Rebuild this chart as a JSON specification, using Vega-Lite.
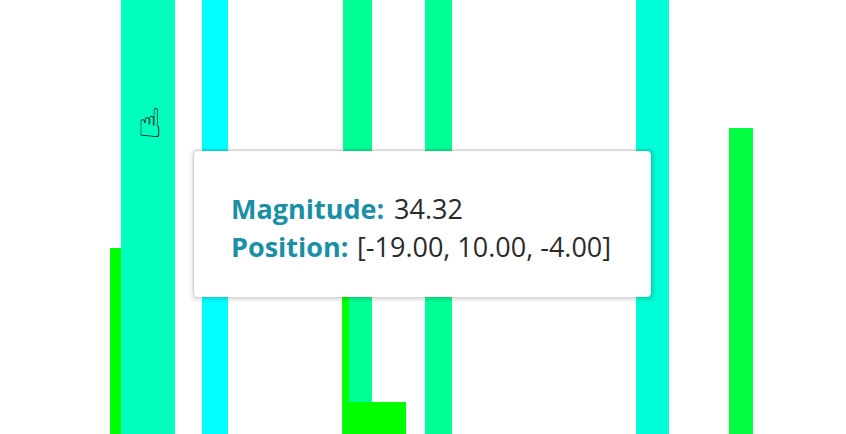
{
  "$schema": "https://vega.github.io/schema/vega-lite/v6.json",
  "width": 846, "height": 434,
  "autosize": {"type": "fit", "contains": "padding"},
  "padding": 0,
  "background": "white",
  "view": {"stroke": null},
  "layer": [
    {
      "data": {"values": [
        {"bar": "b2", "left": 110, "right": 127, "top": 248, "bottom": 434, "mag": 0},
        {"bar": "b1", "left": 121, "right": 175, "top": 0, "bottom": 434, "mag": 30},
        {"bar": "b3", "left": 202, "right": 228, "top": 0, "bottom": 434, "mag": 40},
        {"bar": "b4", "left": 343, "right": 372, "top": 0, "bottom": 434, "mag": 23.5},
        {"bar": "b4g", "left": 342, "right": 349, "top": 290, "bottom": 434, "mag": 1},
        {"bar": "b5", "left": 349, "right": 406, "top": 402, "bottom": 434, "mag": 0},
        {"bar": "b6", "left": 425, "right": 452, "top": 0, "bottom": 434, "mag": 23.5},
        {"bar": "b7", "left": 636, "right": 669, "top": 0, "bottom": 434, "mag": 34},
        {"bar": "b8", "left": 729, "right": 753, "top": 128, "bottom": 434, "mag": 10}
      ]},
      "mark": {"type": "rect"},
      "encoding": {
        "x": {"field": "left", "type": "quantitative", "scale": {"domain": [0, 846], "nice": false, "zero": false}, "axis": null},
        "x2": {"field": "right"},
        "y": {"field": "top", "type": "quantitative", "scale": {"domain": [0, 434], "nice": false, "zero": false, "reverse": true}, "axis": null},
        "y2": {"field": "bottom"},
        "color": {"field": "mag", "type": "quantitative", "scale": {"domain": [0, 40], "range": ["#00ff00", "#00ffff"], "interpolate": "rgb"}, "legend": null}
      }
    },
    {
      "data": {"values": [
        {"left": 190, "right": 656, "top": 148, "bottom": 302, "o": 0.04},
        {"left": 192, "right": 654, "top": 149, "bottom": 300, "o": 0.06},
        {"left": 193, "right": 652, "top": 150, "bottom": 298, "o": 0.08}
      ]},
      "mark": {"type": "rect", "cornerRadius": 6, "color": "#000"},
      "encoding": {
        "x": {"field": "left", "type": "quantitative"},
        "x2": {"field": "right"},
        "y": {"field": "top", "type": "quantitative"},
        "y2": {"field": "bottom"},
        "opacity": {"field": "o", "type": "quantitative", "scale": null}
      }
    },
    {
      "data": {"values": [{"left": 194, "right": 651, "top": 151, "bottom": 297}]},
      "mark": {"type": "rect", "cornerRadius": 4, "color": "white"},
      "encoding": {
        "x": {"field": "left", "type": "quantitative"},
        "x2": {"field": "right"},
        "y": {"field": "top", "type": "quantitative"},
        "y2": {"field": "bottom"}
      }
    },
    {
      "data": {"values": [
        {"label": "Magnitude:", "value": "34.32", "px": 231, "vx": 394, "line": 219},
        {"label": "Position:", "value": "[-19.00, 10.00, -4.00]", "px": 231, "vx": 357, "line": 257}
      ]},
      "layer": [
        {
          "mark": {"type": "text", "align": "left", "baseline": "alphabetic", "font": "Open Sans", "fontWeight": "bold", "fontSize": 27, "color": "#1a8fa6"},
          "encoding": {
            "x": {"field": "px", "type": "quantitative"},
            "y": {"field": "line", "type": "quantitative"},
            "text": {"field": "label"}
          }
        },
        {
          "mark": {"type": "text", "align": "left", "baseline": "alphabetic", "font": "Open Sans", "fontSize": 27, "color": "#2a2a2a"},
          "encoding": {
            "x": {"field": "vx", "type": "quantitative"},
            "y": {"field": "line", "type": "quantitative"},
            "text": {"field": "value"}
          }
        }
      ]
    },
    {
      "data": {"values": [{"cx": 150, "cy": 125, "icon": "☝"}]},
      "mark": {"type": "text", "font": "DejaVu Sans", "fontSize": 40, "color": "#111", "align": "center", "baseline": "middle"},
      "encoding": {
        "x": {"field": "cx", "type": "quantitative"},
        "y": {"field": "cy", "type": "quantitative"},
        "text": {"field": "icon"}
      }
    }
  ]
}
